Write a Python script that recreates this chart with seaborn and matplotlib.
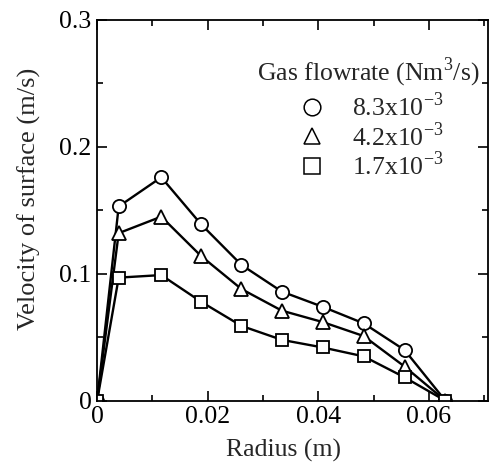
import numpy as np
import matplotlib
matplotlib.use("Agg")
import matplotlib.pyplot as plt
import seaborn as sns
from matplotlib.lines import Line2D
from matplotlib.ticker import MultipleLocator

radius = [0.0, 0.0039, 0.0116, 0.0188, 0.0261, 0.0334, 0.0408, 0.0482, 0.0556, 0.063]
v_high = [0.0, 0.153, 0.176, 0.139, 0.107, 0.086, 0.074, 0.061, 0.040, 0.0]
v_mid = [0.0, 0.132, 0.145, 0.114, 0.088, 0.071, 0.062, 0.051, 0.027, 0.0]
v_low = [0.0, 0.097, 0.099, 0.078, 0.059, 0.048, 0.042, 0.035, 0.0185, 0.0]
labels = ["8.3x10$^{-3}$", "4.2x10$^{-3}$", "1.7x10$^{-3}$"]
markers = ["o", "^", "s"]

sns.set_style("ticks")
plt.rcParams["font.family"] = ["Liberation Serif", "DejaVu Serif"]
plt.rcParams["mathtext.fontset"] = "custom"
plt.rcParams["mathtext.rm"] = "Liberation Serif"

fig = plt.figure(figsize=(4.93, 4.71), dpi=100)
ax = fig.add_axes([0.197, 0.149, 0.793, 0.809])

handles = []
for vals, lab, mk in zip([v_high, v_mid, v_low], labels, markers):
    sns.lineplot(x=radius, y=vals, ax=ax, color="black", lw=1.7, marker=mk,
                 markersize=9.5 if mk != "s" else 8.5, markerfacecolor="white",
                 markeredgecolor="black", markeredgewidth=1.3, legend=False)
    handles.append(Line2D([], [], ls="none", marker=mk, markersize=12 if mk != "s" else 11,
                          markerfacecolor="white", markeredgecolor="black",
                          markeredgewidth=1.1, label=lab))

ax.set_xlim(0, 0.0707)
ax.set_ylim(0, 0.3)
ax.xaxis.set_minor_locator(MultipleLocator(0.01))
ax.yaxis.set_minor_locator(MultipleLocator(0.05))
ax.set_xticks([0, 0.02, 0.04, 0.06])
ax.set_xticklabels(["0", "0.02", "0.04", "0.06"])
ax.set_yticks([0, 0.1, 0.2, 0.3])
ax.set_yticklabels(["0", "0.1", "0.2", "0.3"])
ax.tick_params(which="both", direction="in", top=True, right=True, width=1.2,
               labelsize=18.5, colors="black", pad=4)
ax.tick_params(which="major", length=7)
ax.tick_params(which="minor", length=4)
for s in ax.spines.values():
    s.set_linewidth(1.3)
    s.set_color("black")

ax.set_xlabel("Radius (m)", fontsize=18.5)
ax.set_ylabel("Velocity of surface (m/s)", fontsize=19)
ax.xaxis.set_label_coords(0.478, -0.10)
ax.yaxis.set_label_coords(-0.143, 0.53)

fig.text(257 / 493, 1 - 72 / 471, "Gas flowrate (Nm$^3$/s)", fontsize=18.5,
         ha="left", va="center")
ax.legend(handles=handles, loc="upper left", bbox_to_anchor=(299 / 493, 1 - 92 / 471),
          bbox_transform=fig.transFigure, frameon=False, fontsize=18.5,
          handlelength=1.0, handletextpad=1.05, labelspacing=0.05,
          borderpad=0, borderaxespad=0)

fig.savefig("out.png", dpi=100)
